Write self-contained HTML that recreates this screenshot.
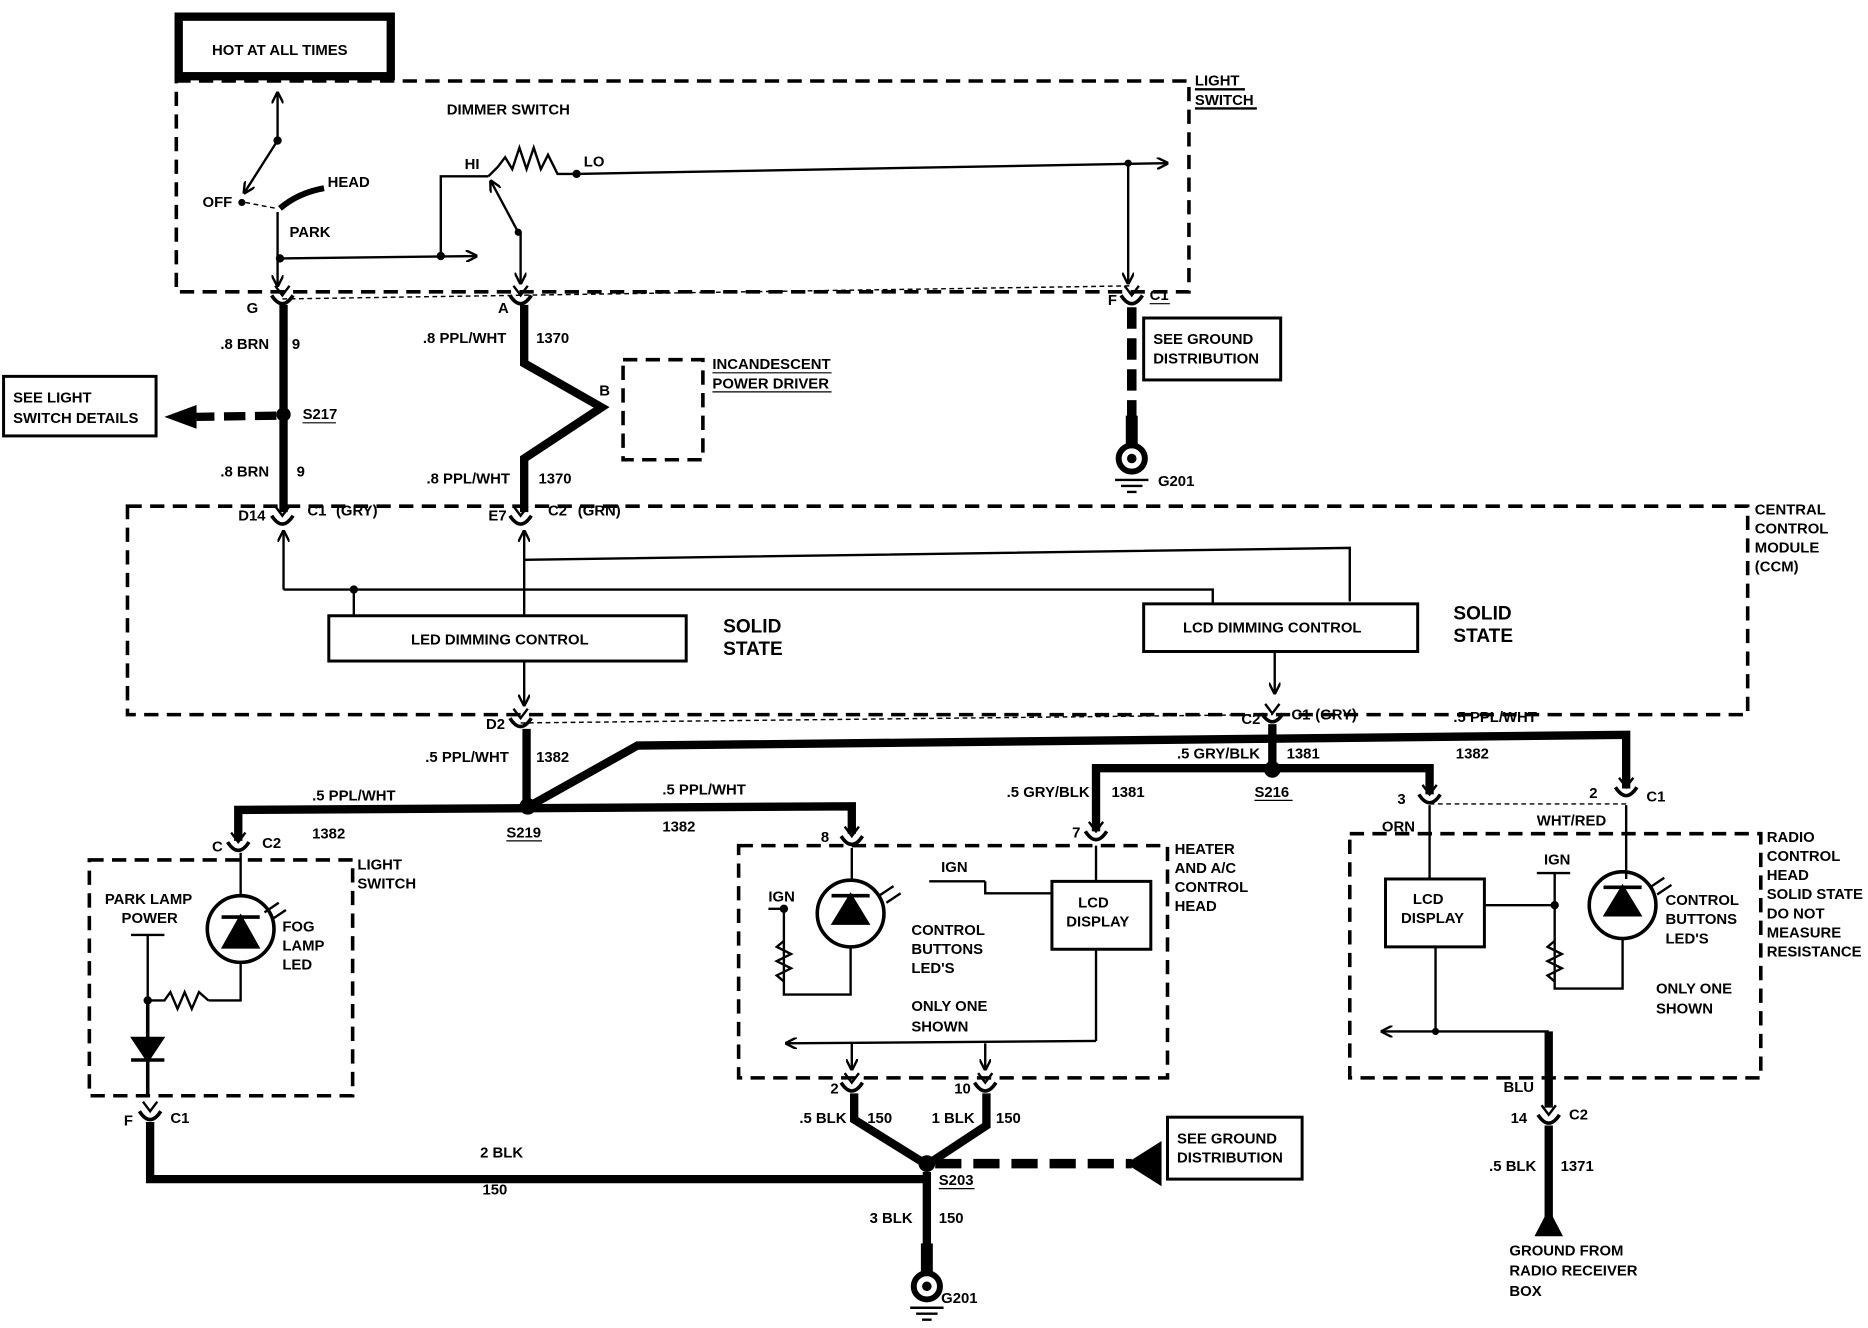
<!DOCTYPE html>
<html><head><meta charset="utf-8"><style>
html,body{margin:0;padding:0;background:#fff;width:1868px;height:1328px;overflow:hidden}
svg{display:block}
text{font-family:"Liberation Sans",sans-serif;font-weight:bold;font-size:12.5px;fill:#000}
.d{fill:none;stroke:#000;stroke-width:3;stroke-dasharray:12 7}
.t{fill:none;stroke:#000;stroke-width:2}
.w{fill:none;stroke:#000;stroke-width:7}
.td{fill:none;stroke:#000;stroke-width:1.2;stroke-dasharray:4 3}
.b{fill:#fff;stroke:#000;stroke-width:2.5}
</style></head><body>
<svg width="1868" height="1328" viewBox="0 0 1568 1115" preserveAspectRatio="none">
<defs>
<marker id="a" markerWidth="10" markerHeight="10" refX="9" refY="5" orient="auto" markerUnits="userSpaceOnUse"><path d="M0,0 L10,5 L0,10" fill="none" stroke="#000" stroke-width="2"/></marker>
<g id="cup"><path d="M-9,-4 Q0,10 9,-4" fill="none" stroke="#000" stroke-width="3"/><path d="M-6,-12 L0,-4 L6,-12" fill="none" stroke="#000" stroke-width="2"/></g>
<g id="gnd"><circle cx="0" cy="0" r="11" fill="none" stroke="#000" stroke-width="5"/><circle cx="0" cy="0" r="4" fill="#000"/><rect x="-5" y="-36" width="10" height="26" fill="#000"/><path d="M-14,18 H14 M-9,23 H9 M-4,28 H4" stroke="#000" stroke-width="2"/></g>
</defs>

<!-- HOT AT ALL TIMES -->
<rect x="150" y="14" width="178" height="50" fill="none" stroke="#000" stroke-width="7"/>
<text x="178" y="46">HOT AT ALL TIMES</text>

<!-- Light switch box -->
<rect x="148" y="68" width="850" height="177" class="d"/>
<text x="1003" y="72">LIGHT</text><text x="1003" y="88">SWITCH</text>
<path d="M1003,75 H1045 M1003,91 H1055" class="t" stroke-width="1"/>
<text x="375" y="96">DIMMER SWITCH</text>
<line x1="233" y1="118" x2="233" y2="78" class="t" marker-end="url(#a)"/>
<circle cx="233" cy="118" r="3.5"/>
<line x1="233" y1="118" x2="205" y2="162" class="t" marker-end="url(#a)"/>
<text x="170" y="174">OFF</text><circle cx="203" cy="170" r="3"/>
<line x1="206" y1="170" x2="232" y2="175" class="td"/>
<path d="M235,175 Q250,162 272,158" fill="none" stroke="#000" stroke-width="5"/>
<text x="275" y="157">HEAD</text><text x="243" y="199">PARK</text>
<line x1="233" y1="178" x2="233" y2="240" class="t" marker-end="url(#a)"/>
<circle cx="235" cy="217" r="3.5"/>
<line x1="235" y1="217" x2="400" y2="215" class="t" marker-end="url(#a)"/>
<circle cx="370" cy="215" r="3.5"/>
<path d="M370,215 V148 H410" class="t"/>
<text x="390" y="142">HI</text><text x="490" y="140">LO</text>
<path d="M410,148 L418,140 L424,132 L430,142 L436,124 L442,142 L448,124 L454,142 L460,130 L468,146 L484,146" class="t"/>
<circle cx="484" cy="146" r="3.5"/>
<line x1="484" y1="146" x2="980" y2="137" class="t" marker-end="url(#a)"/>
<line x1="435" y1="195" x2="412" y2="152" class="t" marker-end="url(#a)"/>
<circle cx="435" cy="195" r="3"/>
<line x1="437" y1="195" x2="437" y2="238" class="t" marker-end="url(#a)"/>
<line x1="947" y1="137" x2="947" y2="238" class="t" marker-end="url(#a)"/>
<circle cx="947" cy="137" r="3"/>

<!-- top connectors -->
<use href="#cup" x="237" y="252"/><use href="#cup" x="437" y="252"/><use href="#cup" x="950" y="252"/>
<line x1="237" y1="251" x2="950" y2="240" class="td"/>
<text x="207" y="263">G</text><text x="418" y="263">A</text><text x="930" y="256">F</text>
<text x="965" y="252">C1</text><path d="M965,255 H982" stroke="#000"/>

<!-- BRN wire -->
<line x1="238" y1="256" x2="238" y2="430" class="w"/>
<circle cx="238" cy="348" r="6"/>
<line x1="232" y1="349" x2="165" y2="350" stroke="#000" stroke-width="7" stroke-dasharray="18 8"/>
<path d="M165,340 L138,350 L165,360 Z"/>
<rect x="3" y="316" width="128" height="50" class="b"/>
<text x="11" y="338">SEE LIGHT</text><text x="11" y="355">SWITCH DETAILS</text>
<text x="185" y="293">.8 BRN</text><text x="245" y="293">9</text>
<text x="185" y="400">.8 BRN</text><text x="249" y="400">9</text>
<text x="254" y="352">S217</text><path d="M254,355 H282" stroke="#000"/>

<!-- 1370 wire -->
<path d="M440,256 V305 L505,342 L440,385 V430" class="w"/>
<text x="355" y="288">.8 PPL/WHT</text><text x="450" y="288">1370</text>
<text x="358" y="406">.8 PPL/WHT</text><text x="452" y="406">1370</text>
<text x="503" y="332">B</text>
<rect x="523" y="302" width="67" height="84" class="d"/>
<text x="598" y="310">INCANDESCENT</text><text x="598" y="326">POWER DRIVER</text>
<path d="M598,313 H698 M598,329 H698" stroke="#000" stroke-width="1"/>

<!-- F ground -->
<line x1="950" y1="258" x2="950" y2="350" stroke="#000" stroke-width="8" stroke-dasharray="18 8"/>
<use href="#gnd" x="950" y="385"/>
<text x="972" y="408">G201</text>
<rect x="960" y="267" width="115" height="52" class="b"/>
<text x="968" y="289">SEE GROUND</text><text x="968" y="305">DISTRIBUTION</text>

<!-- CCM -->
<rect x="107" y="425" width="1360" height="175" class="d"/>
<use href="#cup" x="237" y="437"/><use href="#cup" x="437" y="437"/>
<text x="200" y="437">D14</text><text x="258" y="433">C1</text><text x="282" y="433">(GRY)</text>
<text x="410" y="437">E7</text><text x="460" y="433">C2</text><text x="485" y="433">(GRN)</text>
<text x="1473" y="432">CENTRAL</text><text x="1473" y="448">CONTROL</text><text x="1473" y="464">MODULE</text><text x="1473" y="480">(CCM)</text>
<line x1="238" y1="495" x2="238" y2="446" class="t" marker-end="url(#a)"/>
<path d="M238,495 H1018 V510" class="t"/>
<circle cx="297" cy="495" r="3.5"/><line x1="297" y1="495" x2="297" y2="517" class="t"/>
<line x1="440" y1="517" x2="440" y2="446" class="t" marker-end="url(#a)"/>
<path d="M440,470 L1133,460 V505" class="t"/>
<line x1="440" y1="555" x2="440" y2="592" class="t" marker-end="url(#a)"/>
<rect x="276" y="517" width="300" height="38" class="b"/>
<text x="345" y="541">LED DIMMING CONTROL</text>
<rect x="960" y="507" width="230" height="40" class="b"/>
<text x="993" y="531">LCD DIMMING CONTROL</text>
<text x="607" y="531" style="font-size:16px">SOLID</text><text x="607" y="550" style="font-size:16px">STATE</text>
<text x="1220" y="520" style="font-size:16px">SOLID</text><text x="1220" y="539" style="font-size:16px">STATE</text>
<line x1="1070" y1="548" x2="1070" y2="582" class="t" marker-end="url(#a)"/>
<use href="#cup" x="437" y="607"/><use href="#cup" x="1068" y="603"/>
<line x1="437" y1="607" x2="1068" y2="600" class="td"/>
<text x="408" y="612">D2</text><text x="1042" y="608">C2</text>
<text x="1084" y="604">C1</text><text x="1104" y="604">(GRY)</text>

<!-- lower wires -->
<line x1="442" y1="612" x2="442" y2="677" class="w"/>
<path d="M444,677 L535,626 L1365,617 V662" class="w"/>
<path d="M200,706 V680 L715,677 V700" class="w"/>
<circle cx="443" cy="677" r="7"/>
<line x1="1068" y1="608" x2="1068" y2="646" class="w"/>
<path d="M920,698 V645 H1200 V667" class="w"/>
<circle cx="1068" cy="646" r="7"/>
<text x="357" y="640">.5 PPL/WHT</text><text x="450" y="640">1382</text>
<text x="262" y="672">.5 PPL/WHT</text><text x="262" y="704">1382</text>
<text x="556" y="667">.5 PPL/WHT</text><text x="556" y="698">1382</text>
<text x="425" y="703">S219</text><path d="M425,706 H455" stroke="#000"/>
<text x="1220" y="606">.5 PPL/WHT</text><text x="1222" y="637">1382</text>
<text x="988" y="637">.5 GRY/BLK</text><text x="1080" y="637">1381</text>
<text x="845" y="669">.5 GRY/BLK</text><text x="933" y="669">1381</text>
<text x="1053" y="669">S216</text><path d="M1053,672 H1085" stroke="#000"/>

<!-- left light switch -->
<use href="#cup" x="200" y="711"/>
<text x="178" y="715">C</text><text x="220" y="712">C2</text>
<rect x="75" y="722" width="221" height="198" class="d"/>
<text x="300" y="730">LIGHT</text><text x="300" y="746">SWITCH</text>
<text x="88" y="759">PARK LAMP</text><text x="102" y="775">POWER</text>
<circle cx="202" cy="780" r="28" fill="none" stroke="#000" stroke-width="3"/>
<path d="M188,795 L202,770 L216,795 Z M186,770 H218" stroke="#000" stroke-width="3"/>
<path d="M202,716 V752 M202,808 V840 H175" class="t"/>
<path d="M222,766 l12,-8 M228,772 l12,-8" class="t"/>
<text x="237" y="782">FOG</text><text x="237" y="798">LAMP</text><text x="237" y="814">LED</text>
<path d="M110,785 H138 M124,785 V840 H138 L143,833 L149,847 L155,833 L161,847 L167,833 L175,840" class="t"/>
<circle cx="124" cy="840" r="3.5"/>
<path d="M124,840 V872 M112,872 L124,890 L136,872 Z M110,890 H138 M124,890 V920" stroke="#000" stroke-width="3"/>
<use href="#cup" x="126" y="937"/>
<text x="104" y="945">F</text><text x="143" y="943">C1</text>

<!-- heater AC head -->
<use href="#cup" x="715" y="706"/><use href="#cup" x="920" y="702"/>
<text x="689" y="707">8</text><text x="900" y="703">7</text>
<rect x="620" y="710" width="360" height="195" class="d"/>
<text x="986" y="717">HEATER</text><text x="986" y="733">AND A/C</text><text x="986" y="749">CONTROL</text><text x="986" y="765">HEAD</text>
<circle cx="714" cy="767" r="28" fill="none" stroke="#000" stroke-width="3"/>
<path d="M700,775 L714,752 L728,775 Z M698,752 H730" stroke="#000" stroke-width="3"/>
<path d="M715,712 V738 M714,796 V835 H658 V763 H645" class="t"/>
<path d="M658,790 L652,795 L664,801 L652,807 L664,813 L652,819 L658,824" class="t"/>
<circle cx="658" cy="763" r="3.5"/>
<text x="645" y="757">IGN</text>
<path d="M738,752 l12,-8 M744,758 l12,-8" class="t"/>
<text x="765" y="785">CONTROL</text><text x="765" y="801">BUTTONS</text><text x="765" y="817">LED'S</text>
<text x="790" y="732">IGN</text><path d="M780,740 H827 M827,740 V750 H883" class="t"/>
<path d="M920,710 V740" class="t"/>
<rect x="883" y="740" width="83" height="57" class="b"/>
<text x="905" y="762">LCD</text><text x="895" y="778">DISPLAY</text>
<text x="765" y="849">ONLY ONE</text><text x="765" y="866">SHOWN</text>
<path d="M920,797 V874" class="t"/>
<line x1="920" y1="874" x2="660" y2="876" class="t" marker-end="url(#a)"/>
<line x1="715" y1="876" x2="715" y2="898" class="t" marker-end="url(#a)"/>
<line x1="827" y1="876" x2="827" y2="898" class="t" marker-end="url(#a)"/>
<use href="#cup" x="715" y="913"/><use href="#cup" x="827" y="913"/>
<text x="697" y="918">2</text><text x="801" y="918">10</text>

<!-- radio -->
<use href="#cup" x="1200" y="671"/><use href="#cup" x="1365" y="665"/>
<line x1="1200" y1="675" x2="1365" y2="675" class="td"/>
<text x="1173" y="675">3</text><text x="1334" y="670">2</text><text x="1382" y="673">C1</text>
<text x="1160" y="698">ORN</text><text x="1290" y="693">WHT/RED</text>
<rect x="1133" y="700" width="345" height="205" class="d"/>
<text x="1483" y="707">RADIO</text><text x="1483" y="723">CONTROL</text><text x="1483" y="739">HEAD</text>
<text x="1483" y="755">SOLID STATE</text><text x="1483" y="771">DO NOT</text><text x="1483" y="787">MEASURE</text><text x="1483" y="803">RESISTANCE</text>
<path d="M1200,676 V738 M1365,676 V738" class="t"/>
<rect x="1163" y="738" width="83" height="57" class="b"/>
<text x="1186" y="759">LCD</text><text x="1176" y="775">DISPLAY</text>
<circle cx="1362" cy="760" r="28" fill="none" stroke="#000" stroke-width="3"/>
<path d="M1348,768 L1362,745 L1376,768 Z M1346,745 H1378" stroke="#000" stroke-width="3"/>
<path d="M1385,745 l12,-8 M1391,751 l12,-8" class="t"/>
<text x="1398" y="760">CONTROL</text><text x="1398" y="776">BUTTONS</text><text x="1398" y="792">LED'S</text>
<text x="1296" y="726">IGN</text>
<path d="M1290,733 H1318 M1305,733 V830 H1362 V788 M1246,760 H1305" class="t"/>
<path d="M1305,790 L1299,795 L1311,801 L1299,807 L1311,813 L1299,819 L1305,824" class="t"/>
<circle cx="1305" cy="760" r="3.5"/>
<text x="1390" y="834">ONLY ONE</text><text x="1390" y="851">SHOWN</text>
<path d="M1205,795 V866" class="t"/>
<line x1="1300" y1="866" x2="1160" y2="866" class="t" marker-end="url(#a)"/>
<circle cx="1205" cy="866" r="3"/>
<path d="M1300,866 V930" class="w"/>
<text x="1262" y="917">BLU</text>
<use href="#cup" x="1300" y="940"/>
<text x="1268" y="943">14</text><text x="1317" y="940">C2</text>
<path d="M1300,945 V1025" class="w"/>
<path d="M1288,1038 L1300,1015 L1312,1038 Z"/>
<text x="1250" y="983">.5 BLK</text><text x="1310" y="983">1371</text>
<text x="1267" y="1054">GROUND FROM</text><text x="1267" y="1071">RADIO RECEIVER</text><text x="1267" y="1088">BOX</text>

<!-- bottom ground network -->
<path d="M126,942 V990 H778" class="w"/>
<path d="M717,918 V940 L778,978 L828,945 V918" class="w"/>
<circle cx="778" cy="977" r="7"/>
<line x1="785" y1="977" x2="950" y2="977" stroke="#000" stroke-width="8" stroke-dasharray="22 10"/>
<path d="M945,977 L975,958 V996 Z"/>
<rect x="980" y="938" width="113" height="52" class="b"/>
<text x="988" y="960">SEE GROUND</text><text x="988" y="976">DISTRIBUTION</text>
<text x="403" y="972">2 BLK</text><text x="405" y="1003">150</text>
<text x="671" y="943">.5 BLK</text><text x="728" y="943">150</text>
<text x="782" y="943">1 BLK</text><text x="836" y="943">150</text>
<text x="788" y="995">S203</text><path d="M788,998 H818" stroke="#000"/>
<path d="M778,984 V1045" class="w"/>
<use href="#gnd" x="778" y="1080"/>
<text x="730" y="1027">3 BLK</text><text x="788" y="1027">150</text>
<text x="790" y="1094">G201</text>
</svg>
</body></html>
